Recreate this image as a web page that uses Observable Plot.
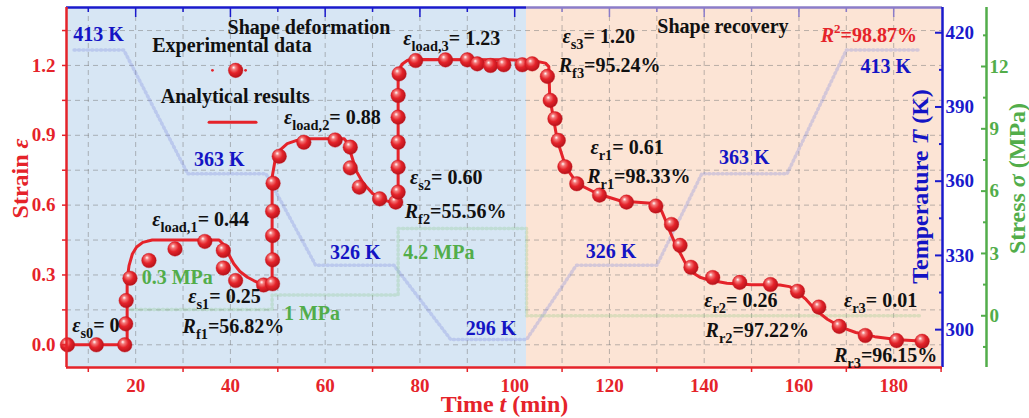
<!DOCTYPE html>
<html><head><meta charset="utf-8">
<script src="https://cdn.jsdelivr.net/npm/d3@7"></script>
<script src="https://cdn.jsdelivr.net/npm/@observablehq/plot@0.6"></script>
<style>
html,body{margin:0;padding:0;background:#fff;}
#chart{width:1029px;height:418px;}
</style></head><body><div id="chart"></div>
<script>
// ---------- data ----------
const expTime = [5.6,11.7,17.7,17.9,18.0,18.8,22.8,28.3,34.6,38.5,38.5,41.1,47.0,48.9,48.9,48.9,48.9,49.0,50.3,55.5,62.1,65.3,65.3,67.2,71.5,74.9,75.4,75.4,75.4,75.4,75.4,75.6,79.1,85.4,90.0,92.1,94.9,97.7,101.6,103.7,106.9,107.5,108.5,109.2,110.6,113.1,117.9,123.6,129.8,133.1,134.9,137.2,141.8,147.5,154.0,159.7,164.2,168.5,174.0,180.6,186.0];
const expStrain = [0,0,0,0.09,0.19,0.286,0.362,0.412,0.444,0.405,0.33,0.276,0.257,0.262,0.365,0.469,0.574,0.694,0.81,0.87,0.88,0.849,0.76,0.677,0.627,0.613,0.656,0.763,0.87,0.978,1.071,1.164,1.221,1.224,1.224,1.207,1.2,1.203,1.203,1.207,1.153,1.05,0.971,0.878,0.765,0.692,0.643,0.613,0.596,0.517,0.427,0.333,0.289,0.268,0.259,0.23,0.162,0.079,0.04,0.018,0.015];

const fitTime = [5.4,17.3,18.2,18.2,18.6,19.3,20.2,21.5,23.5,37.6,38.6,39.6,40.7,42.0,43.6,45.0,46.4,48.1,48.8,48.8,49.4,50.4,52.0,54.0,56.0,64.0,64.8,65.6,66.6,68.0,70.0,72.0,74.0,75.2,75.4,75.4,76.2,77.4,79.0,100.0,104.0,106.5,107.2,107.4,109.0,110.8,113.2,117.5,122.4,129.5,131.0,132.0,133.0,134.2,135.3,136.3,137.6,139.1,141.0,144.8,150.0,156.0,158.0,159.5,161.5,163.5,166.0,169.0,172.0,176.0,181.0,186.5];
const fitStrain = [0,0,0.005,0.28,0.34,0.39,0.42,0.44,0.45,0.45,0.43,0.39,0.348,0.315,0.29,0.275,0.262,0.255,0.258,0.72,0.79,0.835,0.864,0.878,0.885,0.885,0.865,0.81,0.745,0.695,0.65,0.625,0.612,0.605,0.63,1.17,1.205,1.222,1.226,1.224,1.22,1.21,1.195,1.064,0.878,0.763,0.692,0.649,0.618,0.607,0.575,0.527,0.475,0.42,0.38,0.34,0.31,0.29,0.278,0.264,0.258,0.257,0.25,0.23,0.195,0.15,0.11,0.075,0.053,0.035,0.022,0.015];

const tempTime = [7,17.5,31,47.5,58,74.5,86.5,102.5,113,130,139.5,157.5,170,185.7];
const tempK    = [413,413,363,363,326,326,296,296,326,326,363,363,413,413];

const stressTime = [18.2,48.8,48.8,75.4,75.4,102.5,102.5,186];
const stressMPa  = [0.3,0.3,1,1,4.2,4.2,0,0];

const timeTicks   = [20,40,60,80,100,120,140,160,180];
const timeMinor   = [10,30,50,70,90,110,130,150,170,190];
const gridTimes   = [10,20,30,40,50,60,70,80,90,100,110,120,130,140,150,160,170,180];
const strainTicks = [0,0.3,0.6,0.9,1.2];
const strainMinor = [0.15,0.45,0.75,1.05,1.35];
const gridStrains = [0,0.15,0.3,0.45,0.6,0.75,0.9,1.05,1.2,1.35];
const tempTicks   = [300,330,360,390,420];
const tempMinor   = [315,345,375,405];
const stressTicks = [0,3,6,9,12];
const stressMinor = [-1.5,1.5,4.5,7.5,10.5,13.5];

const xDomain = [5.4, 190.3];
const yDomain = [-0.0975, 1.449];
const tempDomain = [284.7, 430.2];
const stressDomain = [-2.49, 14.84];
const phaseSplit = 102.5;

const blackNotes = [
  ["Shape deformation", 39.4, 1.363],
  ["Experimental data", 23.5, 1.284],
  ["Analytical results", 25.3, 1.067],
  ["*ε*_{load,1}= 0.44", 23.5, 0.537],
  ["*ε*_{s0}= 0", 6.6, 0.083],
  ["*ε*_{s1}= 0.25", 31.1, 0.206],
  ["*R*_{f1}=56.82%", 29.9, 0.079],
  ["*ε*_{load,2}= 0.88", 51.3, 0.974],
  ["*ε*_{s2}= 0.60", 77.9, 0.72],
  ["*R*_{f2}=55.56%", 76.8, 0.573],
  ["*ε*_{load,3}= 1.23", 76.5, 1.315],
  ["*ε*_{s3}= 1.20", 110.1, 1.322],
  ["*R*_{f3}=95.24%", 109.3, 1.2],
  ["Shape recovery", 130.1, 1.368],
  ["*ε*_{r1}= 0.61", 116.0, 0.849],
  ["*R*_{r1}=98.33%", 115.3, 0.723],
  ["*ε*_{r2}= 0.26", 140.0, 0.19],
  ["*R*_{r2}=97.22%", 140.3, 0.061],
  ["*ε*_{r3}= 0.01", 169.5, 0.19],
  ["*R*_{r3}=96.15%", 167.4, -0.046]
];
const blueNotes = [
  ["413 K", 6.85, 1.333], ["363 K", 32.3, 0.796], ["326 K", 61.0, 0.394],
  ["296 K", 89.65, 0.07], ["326 K", 115.0, 0.399], ["363 K", 143.1, 0.803], ["413 K", 173.0, 1.196]
];
const greenNotes = [["0.3 MPa", 21.27, 0.29], ["1 MPa", 51.3, 0.134], ["4.2 MPa", 76.5, 0.394]];
const redNotes = [["*R*^{2}=98.87%", 164.6, 1.329]];

const legendDotT = [41.1], legendDotS = 1.179;
const legendEndT = [36.2, 43.2];
const legendLineT = [35.5, 45.4], legendLineS = 0.956;

// ---------- styles ----------
const RED = "#e5232a", BLUE = "#1414c4", AXBLUE = "#1a1acc", PURPLE = "#8b7cc9", GREEN = "#52ad4a";
const toS = d3.scaleLinear().domain(tempDomain).range(yDomain);
const stoS = d3.scaleLinear().domain(stressDomain).range(yDomain);
const font = "'Liberation Serif','Times New Roman',serif";

const noteMark = (arr, color) => Plot.text(arr, {
  x: d => d[1], y: d => d[2], text: d => d[0], fill: color,
  textAnchor: "start", lineAnchor: "middle", fontSize: 20, fontWeight: "bold"
});
const title = (txt, color, opts) => Plot.text([txt], {
  text: d => d, fill: color, fontSize: 24, fontWeight: "bold",
  textAnchor: "middle", lineAnchor: "middle", ...opts
});

const plot = Plot.plot({
  width: 1029, height: 418,
  marginLeft: 66, marginRight: 87, marginTop: 7, marginBottom: 51,
  x: {domain: xDomain},
  y: {domain: yDomain},
  style: {fontFamily: font, fontWeight: "bold", background: "#fff", overflow: "visible"},
  marks: [
    Plot.rect([0], {x1: () => xDomain[0], x2: () => phaseSplit, y1: () => yDomain[0], y2: () => yDomain[1], fill: "#d7e6f4"}),
    Plot.rect([0], {x1: () => phaseSplit, x2: () => xDomain[1], y1: () => yDomain[0], y2: () => yDomain[1], fill: "#fce4d5"}),
    Plot.gridX(gridTimes, {stroke: "#7a7a7a", strokeOpacity: 0.5, strokeDasharray: "5,4", strokeWidth: 1}),
    Plot.gridY(gridStrains, {stroke: "#7a7a7a", strokeOpacity: 0.5, strokeDasharray: "5,4", strokeWidth: 1}),
    // temperature & stress programs (faint dotted)
    Plot.line(tempTime, {x: d => d, y: (d, i) => toS(tempK[i]), stroke: "#7f8ce0", strokeOpacity: 0.32, strokeWidth: 3.5, strokeDasharray: "1.2,3.2"}),
    Plot.line(stressTime, {x: d => d, y: (d, i) => stoS(stressMPa[i]), stroke: "#7cc576", strokeOpacity: 0.25, strokeWidth: 3.5, strokeDasharray: "1.2,3.2"}),
    // analytical + experimental
    Plot.line(fitTime, {x: d => d, y: (d, i) => fitStrain[i], stroke: RED, strokeWidth: 3, strokeLinejoin: "round"}),
    Plot.dot(expTime, {x: d => d, y: (d, i) => expStrain[i], r: 7.3, fill: "url(#sphere)", stroke: "#c8151b", strokeWidth: 0.4}),
    // legend symbols
    Plot.dot(legendEndT, {x: d => d, y: () => legendDotS, r: 1.4, fill: RED}),
    Plot.dot(legendDotT, {x: d => d, y: () => legendDotS, r: 7.3, fill: "url(#sphere)", stroke: "#c8151b", strokeWidth: 0.4}),
    Plot.line(legendLineT, {x: d => d, y: () => legendLineS, stroke: RED, strokeWidth: 3}),
    // frame lines
    Plot.ruleY([yDomain[1]], {x1: () => xDomain[0], x2: () => phaseSplit, stroke: AXBLUE, strokeWidth: 2.5}),
    Plot.ruleY([yDomain[1]], {x1: () => phaseSplit, x2: () => xDomain[1], stroke: PURPLE, strokeWidth: 2.5}),
    Plot.ruleX([xDomain[1]], {stroke: AXBLUE, strokeWidth: 2.5}),
    Plot.ruleX([xDomain[1]], {stroke: GREEN, strokeWidth: 2.5, dx: 44}),
    Plot.ruleY([yDomain[0]], {stroke: RED, strokeWidth: 2.5}),
    Plot.ruleX([xDomain[0]], {stroke: RED, strokeWidth: 2.5}),
    // left axis
    Plot.axisY(strainTicks, {anchor: "left", tickSize: 4, tickPadding: 7, tickFormat: d3.format(".1f"), color: RED, fontSize: 19, fontWeight: "bold", strokeWidth: 1.5, label: null}),
    Plot.axisY(strainMinor, {anchor: "left", tickSize: 4, tickFormat: () => "", color: RED, strokeWidth: 1.5, label: null}),
    // bottom axis
    Plot.axisX(timeTicks, {anchor: "bottom", tickSize: 0, tickPadding: 11, tickFormat: d => d, color: RED, fontSize: 19, fontWeight: "bold", label: null}),
    Plot.axisX(timeMinor, {anchor: "bottom", tickSize: 5, tickFormat: () => "", color: RED, strokeWidth: 1.5, label: null}),
    // top axis ticks (inward)
    Plot.axisX(timeTicks.filter(d => d < phaseSplit), {anchor: "top", tickSize: 9, dy: 9, tickFormat: () => "", color: AXBLUE, strokeWidth: 1.5, label: null}),
    Plot.axisX(timeMinor.filter(d => d < phaseSplit), {anchor: "top", tickSize: 4, dy: 4, tickFormat: () => "", color: AXBLUE, strokeWidth: 1.5, label: null}),
    Plot.axisX(timeTicks.filter(d => d > phaseSplit), {anchor: "top", tickSize: 9, dy: 9, tickFormat: () => "", color: PURPLE, strokeWidth: 1.5, label: null}),
    Plot.axisX(timeMinor.filter(d => d > phaseSplit && d < xDomain[1] - 1), {anchor: "top", tickSize: 4, dy: 4, tickFormat: () => "", color: PURPLE, strokeWidth: 1.5, label: null}),
    // temperature axis (right, inward ticks)
    Plot.axisY(tempTicks.map(toS), {anchor: "right", tickSize: 8, dx: -8, tickPadding: 3, tickFormat: d => Math.round(toS.invert(d)), color: AXBLUE, fontSize: 19, fontWeight: "bold", strokeWidth: 2, label: null}),
    Plot.axisY(tempMinor.map(toS), {anchor: "right", tickSize: 4, dx: -4, tickFormat: () => "", color: AXBLUE, strokeWidth: 2, label: null}),
    // stress axis
    Plot.axisY(stressTicks.map(stoS), {anchor: "right", tickSize: 6, dx: 38, tickPadding: 3, tickFormat: d => Math.round(stoS.invert(d)), color: GREEN, fontSize: 19, fontWeight: "bold", strokeWidth: 2, label: null}),
    Plot.axisY(stressMinor.map(stoS), {anchor: "right", tickSize: 4, dx: 40, tickFormat: () => "", color: GREEN, strokeWidth: 2, label: null}),
    // axis titles
    title("Time *t* (min)", RED, {frameAnchor: "bottom", dy: 37}),
    title("Strain *ε*", RED, {frameAnchor: "left", dx: -46, dy: -9, rotate: -90}),
    title("Temperature *T* (K)", BLUE, {frameAnchor: "right", dx: -22, dy: -1, rotate: -90}),
    title("Stress *σ* (MPa)", GREEN, {frameAnchor: "right", dx: 75, dy: -9, rotate: -90}),
    // annotations
    noteMark(blackNotes, "#111"),
    noteMark(blueNotes, BLUE),
    noteMark(greenNotes, GREEN),
    noteMark(redNotes, RED)
  ]
});

// sphere gradient for data markers
const NS = "http://www.w3.org/2000/svg";
const defs = document.createElementNS(NS, "defs");
defs.innerHTML = '<radialGradient id="sphere" cx="0.42" cy="0.4" r="0.62" fx="0.36" fy="0.3">' +
  '<stop offset="0" stop-color="#ffffff"/><stop offset="0.22" stop-color="#f47a7a"/>' +
  '<stop offset="0.55" stop-color="#e4232a"/><stop offset="1" stop-color="#b3121a"/></radialGradient>';
plot.insertBefore(defs, plot.firstChild);

// rich text: *italic*, _{sub}, ^{sup}
plot.querySelectorAll("text").forEach(t => {
  const s = t.textContent;
  if (!/[*_^]/.test(s)) return;
  const re = /\*([^*]+)\*|_\{([^}]*)\}|\^\{([^}]*)\}|([^*_^]+)/g;
  t.textContent = "";
  let shift = 0, m;
  while ((m = re.exec(s))) {
    const ts = document.createElementNS(NS, "tspan");
    let target = 0, fs = 1;
    if (m[1] != null) { ts.textContent = m[1]; ts.setAttribute("font-style", "italic"); }
    else if (m[2] != null) { ts.textContent = m[2]; fs = 0.72; ts.setAttribute("font-size", "0.72em"); target = 0.3; }
    else if (m[3] != null) { ts.textContent = m[3]; fs = 0.65; ts.setAttribute("font-size", "0.65em"); target = -0.42; }
    else ts.textContent = m[4];
    const delta = target - shift;
    if (delta) ts.setAttribute("dy", (delta / fs).toFixed(3) + "em");
    shift = target;
    t.appendChild(ts);
  }
});

document.getElementById("chart").appendChild(plot);
</script>
</body></html>
